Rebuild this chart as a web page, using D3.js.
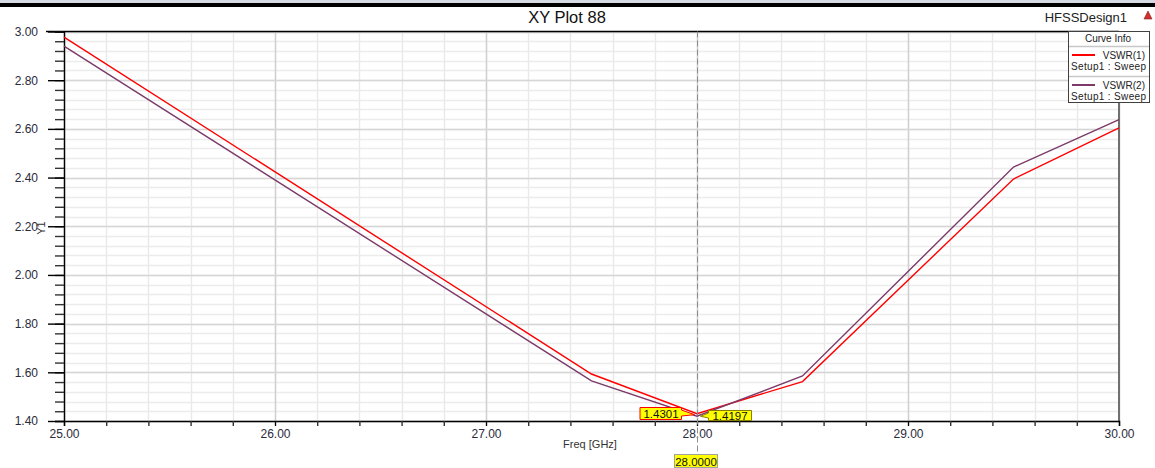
<!DOCTYPE html>
<html>
<head>
<meta charset="utf-8">
<script src="https://cdn.jsdelivr.net/npm/d3@7"></script>
<style>
  html, body { margin: 0; padding: 0; background: #fff; }
  svg { display: block; font-family: "Liberation Sans", Arial, sans-serif; }
</style>
</head>
<body>
<svg id="chart" width="1155" height="468"></svg>
<script>
// Frequency sweep points (GHz)
const freq = [25.0, 27.5, 28.0, 28.5, 29.5, 30.0];
// VSWR traces
const vswr1 = [2.977, 1.593, 1.4301, 1.562, 2.394, 2.604];
const vswr2 = [2.940, 1.565, 1.4197, 1.585, 2.443, 2.638];
const seriesNames = ["VSWR(1)", "VSWR(2)"];
const seriesSetup = ["Setup1 : Sweep", "Setup1 : Sweep"];
const seriesColors = ["#ff0000", "#7c3a68"];
// Axis ticks
const xTicks = [25, 26, 27, 28, 29, 30];
const yTicks = [1.4, 1.6, 1.8, 2.0, 2.2, 2.4, 2.6, 2.8, 3.0];
// Marker frequency
const markerFreq = 28.0;

const svg = d3.select("#chart");
const W = 1155, H = 468;
const pLeft = 64, pRight = 1119, pTop = 31.5, pBottom = 421;

const x = d3.scaleLinear().domain([25, 30]).range([pLeft, pRight]);
const y = d3.scaleLinear().domain([1.4, 3.0]).range([pBottom, pTop]);

// window header strip
svg.append("rect").attr("x", 0).attr("y", 0).attr("width", W).attr("height", 3).attr("fill", "#d5dae3");
svg.append("rect").attr("x", 0).attr("y", 3).attr("width", W).attr("height", 4).attr("fill", "#000");

// title
svg.append("text").attr("x", 567).attr("y", 23).attr("text-anchor", "middle")
  .attr("font-size", 16.5).attr("fill", "#111").text("XY Plot 88");
svg.append("text").attr("x", 1127).attr("y", 22).attr("text-anchor", "end")
  .attr("font-size", 13).attr("fill", "#222").text("HFSSDesign1");
svg.append("path").attr("d", "M1144,19 L1148,11 L1152,19 Z").attr("fill", "#d03030").attr("stroke", "#8a2020").attr("stroke-width", 0.6);

// grid
const g = svg.append("g");
const xMinor = d3.range(25, 30.0001, 0.2).map(v => +v.toFixed(2));
const yMinor = d3.range(1.4, 3.0001, 0.04).map(v => +v.toFixed(2));
g.selectAll(".xm").data(xMinor).join("line")
  .attr("x1", d => Math.round(x(d)) + 0.5).attr("x2", d => Math.round(x(d)) + 0.5)
  .attr("y1", pTop).attr("y2", pBottom).attr("stroke", "#e9e9e9").attr("stroke-width", 1.4);
g.selectAll(".ym").data(yMinor).join("line")
  .attr("y1", d => Math.round(y(d)) + 0.5).attr("y2", d => Math.round(y(d)) + 0.5)
  .attr("x1", pLeft).attr("x2", pRight).attr("stroke", "#ececec").attr("stroke-width", 1.4);
g.selectAll(".xM").data(xTicks).join("line")
  .attr("x1", d => Math.round(x(d)) + 0.5).attr("x2", d => Math.round(x(d)) + 0.5)
  .attr("y1", pTop).attr("y2", pBottom).attr("stroke", "#cfcfcf").attr("stroke-width", 1.4);
g.selectAll(".yM").data(yTicks).join("line")
  .attr("y1", d => Math.round(y(d)) + 0.5).attr("y2", d => Math.round(y(d)) + 0.5)
  .attr("x1", pLeft).attr("x2", pRight).attr("stroke", "#d6d6d6").attr("stroke-width", 1.6);

// frame
svg.append("line").attr("x1", 46).attr("x2", pRight).attr("y1", pTop).attr("y2", pTop).attr("stroke", "#000").attr("stroke-width", 1.4);
svg.append("line").attr("x1", pRight).attr("x2", pRight).attr("y1", pTop).attr("y2", pBottom).attr("stroke", "#707070").attr("stroke-width", 2);

// y axis
const yAxis = d3.axisLeft(y).tickValues(yMinor).tickSize(9).tickFormat("");
const ya = svg.append("g").attr("transform", `translate(${pLeft},0)`).call(yAxis);
ya.select(".domain").attr("stroke", "#000").attr("stroke-width", 1.4);
ya.selectAll(".tick line").attr("stroke", "#333").attr("stroke-width", 1.4);
const yAxisMajor = d3.axisLeft(y).tickValues(yTicks).tickSize(16).tickPadding(10).tickFormat(d3.format(".2f"));
const yb = svg.append("g").attr("transform", `translate(${pLeft},0)`).call(yAxisMajor);
yb.select(".domain").remove();
yb.selectAll(".tick line").attr("stroke", "#000").attr("stroke-width", 1.4);
yb.selectAll(".tick text").attr("font-size", 12).attr("fill", "#2a2a3a").attr("font-family", "Liberation Sans, Arial, sans-serif");

// x axis
const xAxis = d3.axisBottom(x).tickValues(xMinor).tickSize(5).tickFormat("");
const xa = svg.append("g").attr("transform", `translate(0,${pBottom})`).call(xAxis);
xa.select(".domain").attr("stroke", "#000").attr("stroke-width", 1.4);
xa.selectAll(".tick line").attr("stroke", "#333").attr("stroke-width", 1.4);
const xAxisMajor = d3.axisBottom(x).tickValues(xTicks).tickSize(5).tickPadding(3).tickFormat(d3.format(".2f"));
const xb = svg.append("g").attr("transform", `translate(0,${pBottom})`).call(xAxisMajor);
xb.select(".domain").remove();
xb.selectAll(".tick line").attr("stroke", "#000");
xb.selectAll(".tick text").attr("font-size", 12).attr("fill", "#2a2a3a").attr("font-family", "Liberation Sans, Arial, sans-serif");

// axis titles
svg.append("text").attr("x", 590).attr("y", 448).attr("text-anchor", "middle")
  .attr("font-size", 11).attr("fill", "#333").text("Freq [GHz]");
svg.append("text").attr("transform", "translate(45,228) rotate(-90)").attr("text-anchor", "middle")
  .attr("font-size", 11).attr("fill", "#333").text("Y1");

// curves
const line = d3.line().x(d => x(d[0])).y(d => y(d[1]));
[vswr1, vswr2].forEach((vals, i) => {
  svg.append("path").datum(freq.map((f, k) => [f, vals[k]]))
    .attr("d", line).attr("fill", "none")
    .attr("stroke", seriesColors[i]).attr("stroke-width", 1.4);
});

// marker line
const mx = Math.round(x(markerFreq)) + 0.5;
svg.append("line").attr("x1", mx).attr("x2", mx).attr("y1", pTop).attr("y2", 455)
  .attr("stroke", "#8c8c8c").attr("stroke-width", 1).attr("stroke-dasharray", "6,3");

// marker value labels
const mi = freq.indexOf(markerFreq);
const v1 = vswr1[mi], v2 = vswr2[mi];
const py1 = y(v1), py2 = y(v2);

// left label (trace 1)
const l1 = svg.append("g");
l1.append("path")
  .attr("d", `M640,407.5 L681.5,407.5 L681.5,410 L${mx - 3},${py1 + 1} L681.5,416 L681.5,419.5 L640,419.5 Z`)
  .attr("fill", "#ffff00").attr("stroke", "#ff0000").attr("stroke-width", 1);
l1.append("text").attr("x", 661).attr("y", 417.5).attr("text-anchor", "middle")
  .attr("font-size", 11.5).attr("fill", "#111").text(d3.format(".4f")(v1));

// right label (trace 2)
const l2 = svg.append("g");
l2.append("path")
  .attr("d", `M708.5,410.5 L751.5,410.5 L751.5,420.5 L708.5,420.5 L708.5,418 L${mx + 3},${py2} L708.5,413 Z`)
  .attr("fill", "#ffff00").attr("stroke", "#8a8000").attr("stroke-width", 1);
l2.append("text").attr("x", 730).attr("y", 419.5).attr("text-anchor", "middle")
  .attr("font-size", 11.5).attr("fill", "#111").text(d3.format(".4f")(v2));

// marker frequency label
svg.append("rect").attr("x", 674.5).attr("y", 454.5).attr("width", 43).attr("height", 13)
  .attr("fill", "#ffff00").attr("stroke", "#a0a0a0");
svg.append("text").attr("x", 696).attr("y", 465.5).attr("text-anchor", "middle")
  .attr("font-size", 11.5).attr("fill", "#111").text(d3.format(".4f")(markerFreq));

// legend
const lg = svg.append("g");
lg.append("rect").attr("x", 1068.5).attr("y", 31.5).attr("width", 81).attr("height", 71)
  .attr("fill", "#fff").attr("stroke", "#404040").attr("stroke-width", 1);
lg.append("text").attr("x", 1108).attr("y", 42).attr("text-anchor", "middle")
  .attr("font-size", 10).attr("fill", "#222").text("Curve Info");
[46.5, 76.5].forEach(yy => {
  lg.append("line").attr("x1", 1069).attr("x2", 1149).attr("y1", yy).attr("y2", yy).attr("stroke", "#c8c8c8").attr("stroke-width", 1.5);
});
seriesNames.forEach((name, i) => {
  const y0 = 55 + i * 30;
  lg.append("line").attr("x1", 1072).attr("x2", 1095).attr("y1", y0).attr("y2", y0)
    .attr("stroke", seriesColors[i]).attr("stroke-width", 2);
  lg.append("text").attr("x", 1145).attr("y", y0 + 3.5).attr("text-anchor", "end")
    .attr("font-size", 10).attr("fill", "#222").text(name);
  lg.append("text").attr("x", 1071).attr("y", y0 + 15).attr("font-size", 10)
    .attr("fill", "#222").attr("textLength", 75).text(seriesSetup[i]);
});
</script>
</body>
</html>
